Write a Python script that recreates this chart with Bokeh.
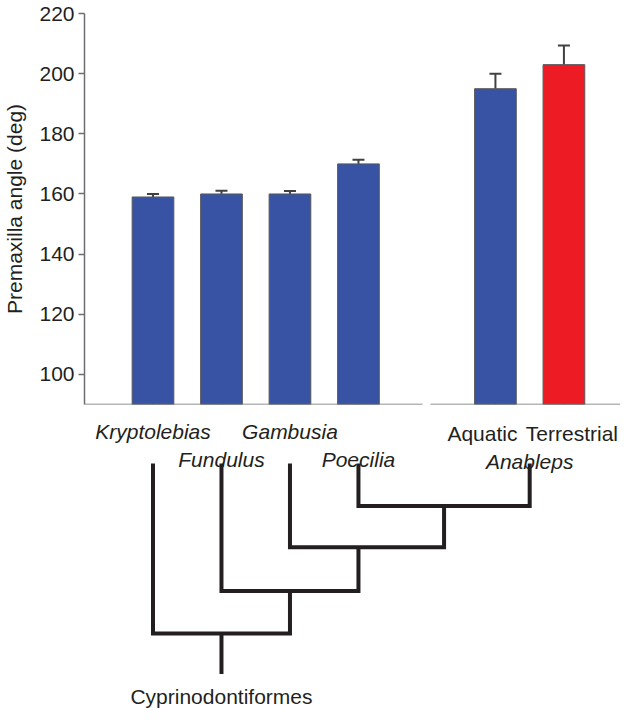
from bokeh.plotting import figure
from bokeh.layouts import column
from bokeh.models import Range1d, LinearAxis, FixedTicker, ColumnDataSource
from bokeh.core.properties import value
from bokeh.embed import file_html
from bokeh.resources import INLINE

# ---------------- data ----------------
taxa = ["Kryptolebias", "Fundulus", "Gambusia", "Poecilia", "Aquatic", "Terrestrial"]
groups = ["Kryptolebias", "Fundulus", "Gambusia", "Poecilia", "Anableps", "Anableps"]
angle_mean = [159, 160, 160, 170, 195, 203]
angle_err = [1.0, 1.1, 1.0, 1.4, 5.0, 6.4]
habitat = ["aquatic", "aquatic", "aquatic", "aquatic", "aquatic", "terrestrial"]
y_ticks = [100, 120, 140, 160, 180, 200, 220]
y_label = "Premaxilla angle (deg)"
clade = "Cyprinodontiformes"
# phylogeny: (left, right) pairs, innermost first
tree_pairs = [("Poecilia", "Anableps"), ("Gambusia", "n1"), ("Fundulus", "n2"), ("Kryptolebias", "n3")]

# ---------------- layout ----------------
FONT = "Liberation Sans"
FS = "21px"
TXT = "#231f20"
AX = "#6d6e71"
colors = {"aquatic": "#3953a4", "terrestrial": "#ed1c24"}

xs = [i + (1 if g == "Anableps" else 0) for i, g in enumerate(groups)]
tip_x = {}
for g, x in zip(groups, xs):
    tip_x.setdefault(g, []).append(x)
tip_x = {g: sum(v) / len(v) for g, v in tip_x.items()}

W, H = 620, 711
LEFT, TOP = 80, 13
H1 = 412          # top (bar) figure height
FRAME_BOTTOM = 404
px_per_x = 69.0
y_base = 90

xr = Range1d(-1, -1 + (W - LEFT) / px_per_x)

p = figure(width=W, height=H1, output_backend="svg", toolbar_location=None, tools="",
           x_axis_type=None, x_range=xr, y_range=Range1d(y_base, 220),
           min_border_left=LEFT, min_border_right=0, min_border_top=TOP,
           min_border_bottom=H1 - FRAME_BOTTOM,
           background_fill_color="white", border_fill_color="white")
p.outline_line_color = None
p.ygrid.visible = False

# y axis
ya = p.yaxis[0]
ya.ticker = FixedTicker(ticks=y_ticks, minor_ticks=[])
ya.axis_line_color = AX
ya.axis_line_width = 1.5
ya.major_tick_line_color = AX
ya.major_tick_line_width = 1.5
ya.major_tick_out = 6
ya.major_tick_in = 0
ya.minor_tick_line_color = None
ya.major_label_standoff = 4
ya.major_label_text_font = FONT
ya.major_label_text_font_size = FS
ya.major_label_text_color = TXT
ya.axis_label = y_label
ya.axis_label_text_font = FONT
ya.axis_label_text_font_size = FS
ya.axis_label_text_font_style = "normal"
ya.axis_label_text_color = TXT
ya.axis_label_standoff = 10

# broken x axis (two segments) at y = 90
left_ticks = [x for g, x in zip(groups, xs) if g != "Anableps"]
right_ticks = [x for g, x in zip(groups, xs) if g == "Anableps"]
for bounds, ticks in [((-1, max(left_ticks) + 0.93), left_ticks),
                      ((min(right_ticks) - 0.95, xr.end), right_ticks)]:
    xa = LinearAxis(ticker=FixedTicker(ticks=ticks, minor_ticks=[]), bounds=bounds,
                    fixed_location=y_base)
    xa.axis_line_color = AX
    xa.axis_line_width = 1.5
    xa.major_tick_line_color = AX
    xa.major_tick_line_width = 1.5
    xa.major_tick_out = 6
    xa.major_tick_in = 0
    xa.minor_tick_line_color = None
    xa.major_label_text_font_size = "0px"
    xa.major_label_text_alpha = 0
    p.add_layout(xa, "below")

# bars
src = ColumnDataSource(dict(
    x=xs, top=angle_mean, err_top=[m + e for m, e in zip(angle_mean, angle_err)],
    color=[colors[h] for h in habitat]))
p.segment(x0="x", y0="top", x1="x", y1="err_top", source=src, line_color="#414042", line_width=2)
p.scatter(x="x", y="err_top", source=src, marker="dash", size=12, line_color="#414042", line_width=2)
p.vbar(x="x", top="top", bottom=y_base, width=42 / px_per_x, source=src,
       fill_color="color", line_color="#58595b", line_width=1)

# ---------------- lower panel: labels + phylogeny ----------------
H2 = H - H1
q = figure(width=W, height=H2, output_backend="svg", toolbar_location=None, tools="",
           x_axis_type=None, y_axis_type=None, x_range=xr, y_range=Range1d(H2, 0),
           min_border_left=LEFT, min_border_right=0, min_border_top=0, min_border_bottom=0,
           background_fill_color="white", border_fill_color="white")
q.outline_line_color = None

def lab(xv, yv, t, style, dx=0):
    q.text(x=[xv], y=[yv], text=[t], text_font=value(FONT), text_font_size=FS,
           text_font_style=style, text_color=TXT, text_align="center",
           text_baseline="alphabetic", x_offset=dx)

row1, row2 = 19, 47
for i, (t, g, x) in enumerate(zip(taxa, groups, xs)):
    if g != "Anableps":
        lab(x, row1 if i % 2 == 0 else row2, t, "italic")
lab(right_ticks[0], row1 + 2, taxa[4], "normal", -13)
lab(right_ticks[1], row1 + 2, taxa[5], "normal", 8)
lab(tip_x["Anableps"], row2 + 2, "Anableps", "italic")

tip_top, unit = 51, 42.5
node_depth = [1.0, 1.97, 3.0, 4.0]
node_x = [(tip_x["Poecilia"] + tip_x["Anableps"]) / 2, tip_x["Poecilia"], tip_x["Gambusia"], tip_x["Fundulus"]]
pos = dict(tip_x)
depth = {g: 0.0 for g in tip_x}
paths_x, paths_y = [], []
for k, (a, b) in enumerate(tree_pairs):
    name = "n%d" % (k + 1)
    d = node_depth[k]
    paths_x.append([pos[a], pos[a], pos[b], pos[b]])
    paths_y.append([tip_top + depth[a] * unit, tip_top + d * unit,
                    tip_top + d * unit, tip_top + depth[b] * unit])
    pos[name], depth[name] = node_x[k], d
root = "n%d" % len(tree_pairs)
paths_x.append([pos[root], pos[root]])
paths_y.append([tip_top + depth[root] * unit, tip_top + 4.95 * unit])
q.multi_line(xs=paths_x, ys=paths_y, line_color="#231f20",
             line_width=4, line_join="miter", line_cap="butt")
q.text(x=[pos[root]], y=[284], text=[clade], text_font=value(FONT),
       text_font_size=FS, text_color=TXT, text_align="center", text_baseline="alphabetic")

layout = column(p, q, spacing=0)
open("out.html", "w").write(file_html(layout, INLINE))
